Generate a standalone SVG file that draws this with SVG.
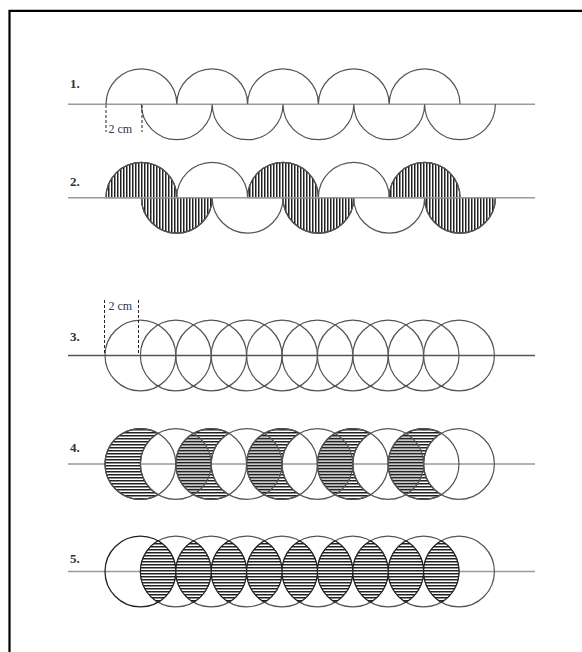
<svg xmlns="http://www.w3.org/2000/svg" width="582" height="652" viewBox="0 0 582 652">
<defs>
<pattern id="hh" width="6" height="3" patternUnits="userSpaceOnUse"><rect width="6" height="3" fill="#fff"/><rect width="6" height="1.5" fill="#222"/></pattern>
<pattern id="hh2" width="6" height="3" patternUnits="userSpaceOnUse"><rect y="1.9" width="6" height="0.5" fill="#777"/></pattern>
<pattern id="vh" width="3" height="6" patternUnits="userSpaceOnUse"><rect width="3" height="6" fill="#fff"/><rect width="1.5" height="6" fill="#222"/></pattern>
</defs>
<style>
.base{stroke:#9a9a9a;stroke-width:1.6;fill:none}
.arc{stroke:#555;stroke-width:1.2;fill:none}
.dk{stroke:#222;stroke-width:1.2}
.dash{stroke:#222;stroke-width:1;stroke-dasharray:3 2;fill:none}
.lbl{font-family:"Liberation Serif",serif;font-weight:bold;font-size:13px;fill:#333}
.cm{font-family:"Liberation Serif",serif;font-size:12px;fill:#2a3550}
</style>
<rect width="582" height="652" fill="#fff"/>
<path d="M9.5,652 V10.8 H582" fill="none" stroke="#000" stroke-width="2.2"/>

<g id="row1">
<text class="lbl" x="70" y="88">1.</text>
<line class="base" x1="68" y1="104.3" x2="535" y2="104.3"/>
<path class="arc" d="M106,104.3 A35.4,35.4 0 0 1 176.8,104.3 A35.4,35.4 0 0 1 247.6,104.3 A35.4,35.4 0 0 1 318.4,104.3 A35.4,35.4 0 0 1 389.2,104.3 A35.4,35.4 0 0 1 460,104.3"/>
<path class="arc" d="M141.4,104.3 A35.4,35.4 0 0 0 212.2,104.3 A35.4,35.4 0 0 0 283,104.3 A35.4,35.4 0 0 0 353.8,104.3 A35.4,35.4 0 0 0 424.6,104.3 A35.4,35.4 0 0 0 495.4,104.3"/>
<line class="dash" x1="106" y1="105" x2="106" y2="132"/>
<line class="dash" x1="142" y1="105" x2="142" y2="132"/>
<text class="cm" x="108.5" y="132.5">2 cm</text>
</g>

<g id="row2">
<text class="lbl" x="70" y="186">2.</text>
<path fill="url(#vh)" class="dk" d="M106,197.7 A35.4,35.4 0 0 1 176.8,197.7 Z M247.6,197.7 A35.4,35.4 0 0 1 318.4,197.7 Z M389.2,197.7 A35.4,35.4 0 0 1 460,197.7 Z"/>
<path fill="url(#vh)" class="dk" d="M141.4,197.7 A35.4,35.4 0 0 0 212.2,197.7 Z M283,197.7 A35.4,35.4 0 0 0 353.8,197.7 Z M424.6,197.7 A35.4,35.4 0 0 0 495.4,197.7 Z"/>
<path class="arc" d="M106,197.7 A35.4,35.4 0 0 1 176.8,197.7 A35.4,35.4 0 0 1 247.6,197.7 A35.4,35.4 0 0 1 318.4,197.7 A35.4,35.4 0 0 1 389.2,197.7 A35.4,35.4 0 0 1 460,197.7"/>
<path class="arc" d="M141.4,197.7 A35.4,35.4 0 0 0 212.2,197.7 A35.4,35.4 0 0 0 283,197.7 A35.4,35.4 0 0 0 353.8,197.7 A35.4,35.4 0 0 0 424.6,197.7 A35.4,35.4 0 0 0 495.4,197.7"/>
<line class="base" x1="68" y1="197.7" x2="535" y2="197.7"/>
</g>

<g id="row3">
<text class="lbl" x="70" y="341">3.</text>
<line class="base" x1="68" y1="355.5" x2="535" y2="355.5" style="stroke:#555"/>
<g class="arc">
<circle cx="140.4" cy="355.5" r="35.4"/><circle cx="175.8" cy="355.5" r="35.4"/><circle cx="211.2" cy="355.5" r="35.4"/><circle cx="246.6" cy="355.5" r="35.4"/><circle cx="282" cy="355.5" r="35.4"/><circle cx="317.4" cy="355.5" r="35.4"/><circle cx="352.8" cy="355.5" r="35.4"/><circle cx="388.2" cy="355.5" r="35.4"/><circle cx="423.6" cy="355.5" r="35.4"/><circle cx="459" cy="355.5" r="35.4"/>
</g>
<line class="dash" x1="104.5" y1="300" x2="104.5" y2="355"/>
<line class="dash" x1="138.5" y1="300" x2="138.5" y2="355"/>
<text class="cm" x="108.5" y="310">2 cm</text>
</g>

<g id="row4">
<text class="lbl" x="70" y="452">4.</text>
<line class="base" x1="68" y1="464" x2="535" y2="464"/>
<path fill="url(#hh)" class="dk" d="M158.1,433.34 A35.4,35.4 0 1 0 158.1,494.66 A35.4,35.4 0 0 1 158.1,433.34 Z M228.9,433.34 A35.4,35.4 0 1 0 228.9,494.66 A35.4,35.4 0 0 1 228.9,433.34 Z M299.7,433.34 A35.4,35.4 0 1 0 299.7,494.66 A35.4,35.4 0 0 1 299.7,433.34 Z M370.5,433.34 A35.4,35.4 0 1 0 370.5,494.66 A35.4,35.4 0 0 1 370.5,433.34 Z M441.3,433.34 A35.4,35.4 0 1 0 441.3,494.66 A35.4,35.4 0 0 1 441.3,433.34 Z"/>
<path fill="url(#hh2)" d="M193.5,433.34 A35.4,35.4 0 0 1 193.5,494.66 A35.4,35.4 0 0 1 193.5,433.34 Z M264.3,433.34 A35.4,35.4 0 0 1 264.3,494.66 A35.4,35.4 0 0 1 264.3,433.34 Z M335.1,433.34 A35.4,35.4 0 0 1 335.1,494.66 A35.4,35.4 0 0 1 335.1,433.34 Z M405.9,433.34 A35.4,35.4 0 0 1 405.9,494.66 A35.4,35.4 0 0 1 405.9,433.34 Z"/>
<g class="arc">
<circle cx="140.4" cy="464" r="35.4"/><circle cx="175.8" cy="464" r="35.4"/><circle cx="211.2" cy="464" r="35.4"/><circle cx="246.6" cy="464" r="35.4"/><circle cx="282" cy="464" r="35.4"/><circle cx="317.4" cy="464" r="35.4"/><circle cx="352.8" cy="464" r="35.4"/><circle cx="388.2" cy="464" r="35.4"/><circle cx="423.6" cy="464" r="35.4"/><circle cx="459" cy="464" r="35.4"/>
</g>
</g>

<g id="row5">
<text class="lbl" x="70" y="563">5.</text>
<line class="base" x1="68" y1="571.5" x2="535" y2="571.5"/>
<g class="arc">
<circle cx="175.8" cy="571.5" r="35.4"/><circle cx="211.2" cy="571.5" r="35.4"/><circle cx="246.6" cy="571.5" r="35.4"/><circle cx="282" cy="571.5" r="35.4"/><circle cx="317.4" cy="571.5" r="35.4"/><circle cx="352.8" cy="571.5" r="35.4"/><circle cx="388.2" cy="571.5" r="35.4"/><circle cx="423.6" cy="571.5" r="35.4"/><circle cx="459" cy="571.5" r="35.4"/>
</g>
<circle cx="140.4" cy="571.5" r="35.4" fill="none" stroke="#222" stroke-width="1.3"/>
<path fill="url(#hh)" class="dk" d="M158.1,540.84 A35.4,35.4 0 0 1 158.1,602.16 A35.4,35.4 0 0 1 158.1,540.84 Z M193.5,540.84 A35.4,35.4 0 0 1 193.5,602.16 A35.4,35.4 0 0 1 193.5,540.84 Z M228.9,540.84 A35.4,35.4 0 0 1 228.9,602.16 A35.4,35.4 0 0 1 228.9,540.84 Z M264.3,540.84 A35.4,35.4 0 0 1 264.3,602.16 A35.4,35.4 0 0 1 264.3,540.84 Z M299.7,540.84 A35.4,35.4 0 0 1 299.7,602.16 A35.4,35.4 0 0 1 299.7,540.84 Z M335.1,540.84 A35.4,35.4 0 0 1 335.1,602.16 A35.4,35.4 0 0 1 335.1,540.84 Z M370.5,540.84 A35.4,35.4 0 0 1 370.5,602.16 A35.4,35.4 0 0 1 370.5,540.84 Z M405.9,540.84 A35.4,35.4 0 0 1 405.9,602.16 A35.4,35.4 0 0 1 405.9,540.84 Z M441.3,540.84 A35.4,35.4 0 0 1 441.3,602.16 A35.4,35.4 0 0 1 441.3,540.84 Z"/>
</g>
</svg>
